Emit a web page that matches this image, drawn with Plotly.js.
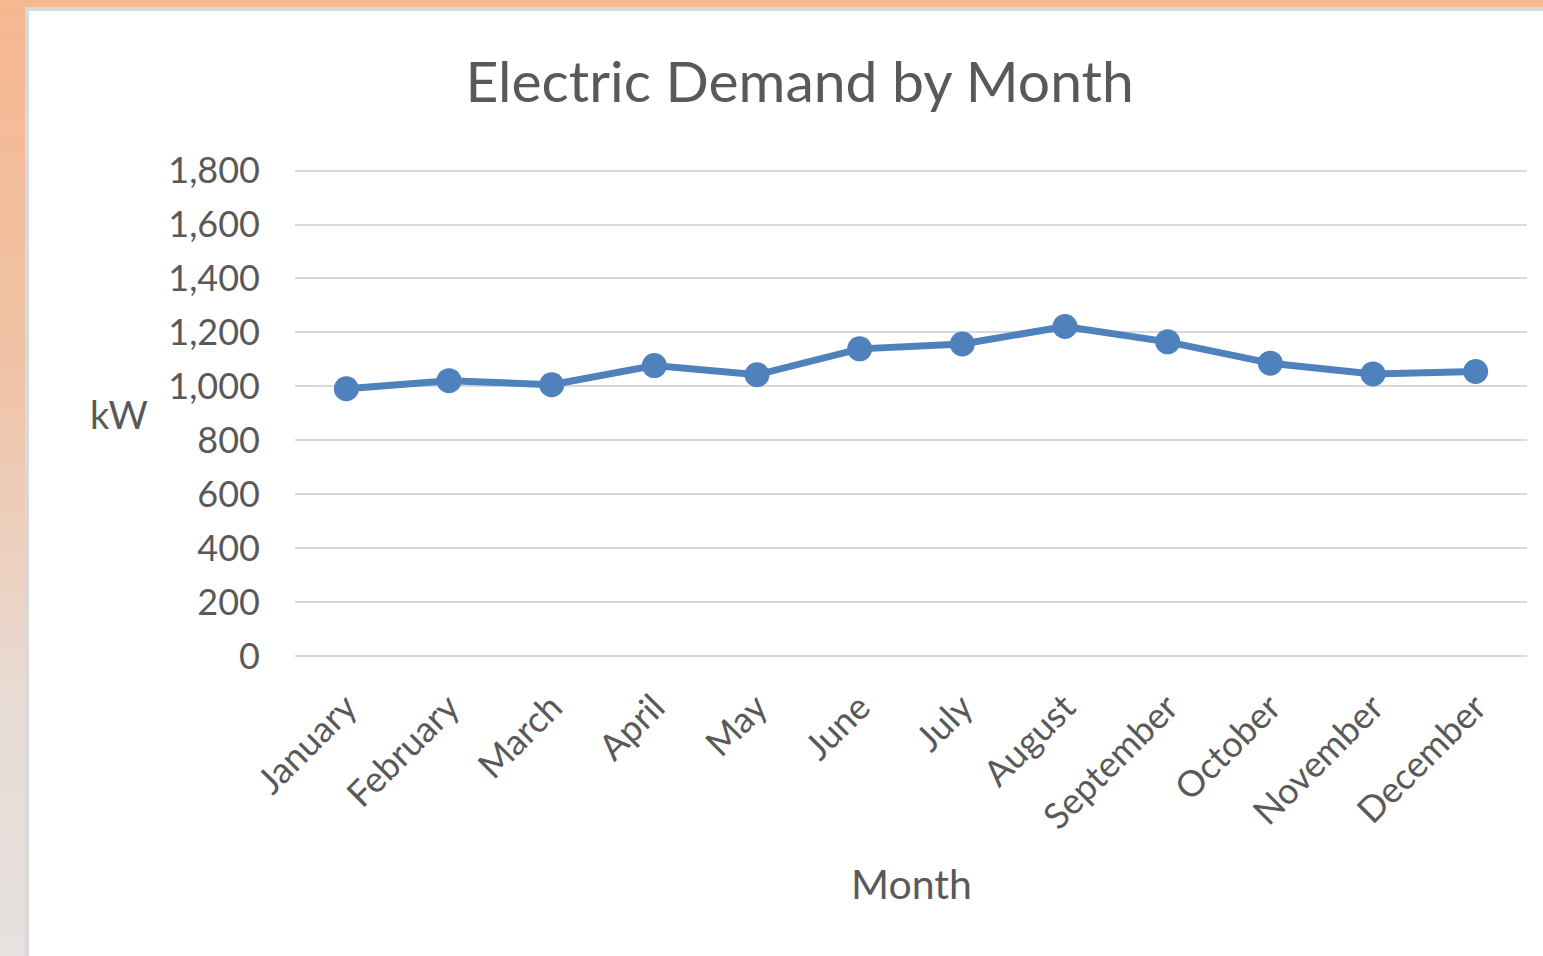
<!DOCTYPE html>
<html><head><meta charset="utf-8">
<script src="https://cdn.plot.ly/plotly-3.0.1.min.js"></script>
<style>
html,body{margin:0;padding:0;width:1543px;height:956px;overflow:hidden;}
body{background:linear-gradient(to bottom,#f5b78f 0%,#f0c4a8 40%,#e8dcd6 75%,#e6e2df 100%);position:relative;}
#top{position:absolute;left:0;top:0;width:1543px;height:7px;background:#f5b88f;}
#frame{position:absolute;left:25px;top:7px;width:1518px;height:949px;background:#d9d9d9;}
#chart{position:absolute;left:29px;top:11px;width:1514px;height:945px;background:#fff;}
</style></head><body>
<div id="top"></div><div id="frame"></div><div id="chart"></div>
<script>
const months = ["January","February","March","April","May","June","July","August","September","October","November","December"];
const demandKW = [991, 1021, 1006, 1077, 1043, 1139, 1157, 1222, 1165, 1086, 1046, 1055];
const yTicks = [0,200,400,600,800,1000,1200,1400,1600,1800];

const font = "Lato, 'Open Sans', sans-serif";
const grey = "#595959";
Plotly.newPlot("chart", [{
  x: months, y: demandKW, type: "scatter", mode: "lines+markers",
  line: {color: "#4f81bd", width: 7},
  marker: {color: "#4f81bd", size: 25},
  hoverinfo: "x+y"
}], {
  width: 1514, height: 945,
  paper_bgcolor: "#fff", plot_bgcolor: "#fff",
  margin: {l: 266, r: 16, t: 158, b: 300},
  showlegend: false,
  title: {text: "Electric Demand by Month", font: {family: font, size: 57, color: grey},
          xref: "container", x: 0.509, xanchor: "center", yref: "container", y: 0.925, yanchor: "middle"},
  xaxis: {type: "category", showgrid: false, showline: false, zeroline: false,
          tickangle: -45, ticks: "", ticklabelstandoff: 22,
          tickfont: {family: font, size: 36, color: grey}, range: [-0.5, 11.5]},
  yaxis: {range: [0, 1806], tickvals: yTicks, tickformat: ",d", showline: false,
          gridcolor: "#d9d9d9", gridwidth: 2, zeroline: true, zerolinecolor: "#d9d9d9", zerolinewidth: 2,
          ticks: "", ticklabelstandoff: 34,
          tickfont: {family: font, size: 36, color: grey}},
  annotations: [
    {text: "kW", xref: "paper", yref: "paper", x: -0.143, y: 0.497, xanchor: "center", yanchor: "middle",
     showarrow: false, font: {family: font, size: 38, color: grey}},
    {text: "Month", xref: "paper", yref: "paper", x: 0.5, y: -0.468, xanchor: "center", yanchor: "middle",
     showarrow: false, font: {family: font, size: 41, color: grey}}
  ]
}, {displayModeBar: false});
</script>
</body></html>
